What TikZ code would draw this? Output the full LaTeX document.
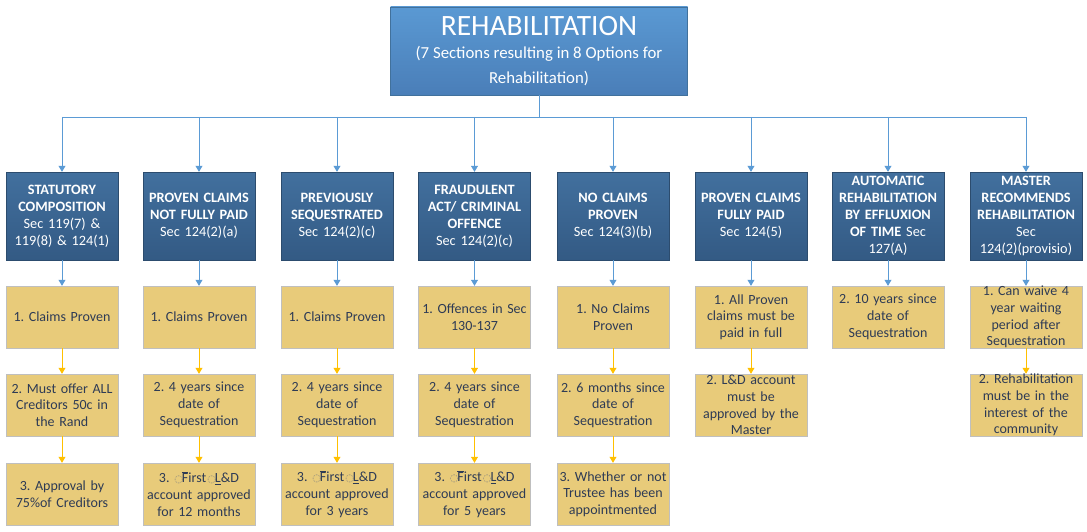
\documentclass[tikz,border=0pt]{standalone}
\usepackage{fontspec}
\setmainfont{Carlito}
\newfontfamily\dejavu{DejaVu Sans}
\usetikzlibrary{arrows.meta}
\definecolor{ttop}{HTML}{5A99D3}
\definecolor{tbot}{HTML}{4A7EB8}
\definecolor{tdraw}{HTML}{41719C}
\definecolor{btop}{HTML}{42709E}
\definecolor{bbot}{HTML}{335A84}
\definecolor{bdraw}{HTML}{2C4C6E}
\definecolor{yfill}{HTML}{E8CB7A}
\definecolor{ydraw}{HTML}{BFBFBF}
\definecolor{ytext}{HTML}{2E3B55}
\definecolor{bline}{HTML}{5B9BD5}
\definecolor{yline}{HTML}{FFC000}
\newcommand\hd[1]{\textbf{#1}}
\newcommand\dcir{{\color{gray}\dejavu\fontsize{10}{10}\selectfont ◌}}
\newcommand\fstld{\dcir\kern-1pt$\overline{\mbox{F}}$irst\kern1pt\dcir\kern-1pt\underline{L}\&D}
\frenchspacing
\begin{document}
\frenchspacing
\begin{tikzpicture}[x=1pt,y=-1pt,
  topbox/.style={draw=tdraw, top color=ttop, bottom color=tbot, minimum width=297pt, minimum height=88pt, inner sep=0pt, align=center, text=white, font=\fontsize{16.8}{25}\selectfont},
  bluebox/.style={draw=bdraw, top color=btop, bottom color=bbot, minimum width=112pt, minimum height=88pt, text width=110pt, align=center, inner sep=0pt, text=white, font=\fontsize{14.3}{17}\selectfont},
  yelbox/.style={draw=ydraw, fill=yfill, minimum width=112pt, minimum height=62pt, text width=110pt, align=center, inner sep=0pt, text=ytext, font=\fontsize{14}{16.7}\selectfont},
  bconn/.style={draw=bline, line width=0.8pt},
  barrow/.style={bconn, -{Triangle[width=7pt,length=6pt]}},
  yarrow/.style={draw=yline, line width=0.8pt, -{Triangle[width=7pt,length=6pt]}}
]
\useasboundingbox (0,0) rectangle (1087,532);
\fill[white] (0,0) rectangle (1087,532);

\node[topbox] (top) at (539,51) {{\fontsize{29.5}{30}\selectfont REHABILITATION}\\[-2pt]
  (7 Sections resulting in 8 Options for\\
  Rehabilitation)};

\coordinate (busy) at (0,117);

% blue boxes
\node[bluebox] (b1) at (62,216) {\hd{STATUTORY}\\\hd{COMPOSITION}\\Sec 119(7) \&\\119(8) \& 124(1)};
\node[bluebox] (b2) at (199,216) {\hd{PROVEN CLAIMS}\\\hd{NOT FULLY PAID}\\Sec 124(2)(a)};
\node[bluebox] (b3) at (337,216) {\hd{PREVIOUSLY}\\\hd{SEQUESTRATED}\\Sec 124(2)(c)};
\node[bluebox] (b4) at (474.5,216) {\hd{FRAUDULENT}\\\hd{ACT/ CRIMINAL}\\\hd{OFFENCE}\\Sec 124(2)(c)};
\node[bluebox] (b5) at (613,216) {\hd{NO CLAIMS}\\\hd{PROVEN}\\Sec 124(3)(b)};
\node[bluebox] (b6) at (751,216) {\hd{PROVEN CLAIMS}\\\hd{FULLY PAID}\\Sec 124(5)};
\node[bluebox] (b7) at (888,216) {\hd{AUTOMATIC}\\\hd{REHABILITATION}\\\hd{BY EFFLUXION}\\\hd{OF TIME} Sec\\127(A)};
\node[bluebox] (b8) at (1026,216) {\hd{MASTER}\\\hd{RECOMMENDS}\\\hd{REHABILITATION}\\Sec\\124(2)(provisio)};

% yellow boxes
\node[yelbox] (y11) at (62,317) {1. Claims Proven};
\node[yelbox] (y12) at (62,405) {2. Must offer ALL\\Creditors 50c in\\the Rand};
\node[yelbox] (y13) at (62,494) {3. Approval by\\75\%of Creditors};

\node[yelbox] (y21) at (199,317) {1. Claims Proven};
\node[yelbox] (y22) at (199,405) {2. 4 years since\\date of\\Sequestration};
\node[yelbox] (y23) at (199,494) {3. \fstld\\account approved\\for 12 months};

\node[yelbox] (y31) at (337,317) {1. Claims Proven};
\node[yelbox] (y32) at (337,405) {2. 4 years since\\date of\\Sequestration};
\node[yelbox] (y33) at (337,494) {3. \fstld\\account approved\\for 3 years};

\node[yelbox] (y41) at (474.5,317) {1. Offences in Sec\\130-137};
\node[yelbox] (y42) at (474.5,405) {2. 4 years since\\date of\\Sequestration};
\node[yelbox] (y43) at (474.5,494) {3. \fstld\\account approved\\for 5 years};

\node[yelbox] (y51) at (613,317) {1. No Claims\\Proven};
\node[yelbox] (y52) at (613,405) {2. 6 months since\\date of\\Sequestration};
\node[yelbox] (y53) at (613,494) {3. Whether or not\\Trustee has been\\appointmented};

\node[yelbox] (y61) at (751,317) {1. All Proven\\claims must be\\paid in full};
\node[yelbox] (y62) at (751,405) {2. L\&D account\\must be\\approved by the\\Master};

\node[yelbox] (y71) at (888,317) {2. 10 years since\\date of\\Sequestration};

\node[yelbox] (y81) at (1026,317) {1. Can waive 4\\year waiting\\period after\\Sequestration};
\node[yelbox] (y82) at (1026,405) {2. Rehabilitation\\must be in the\\interest of the\\community};

% connectors
\draw[bconn] (top.south) -- (top.south |- busy);
\draw[bconn] (b1.north |- busy) -- (b8.north |- busy);
\foreach \b in {b1,b2,b3,b4,b5,b6,b7,b8}
  \draw[barrow] (\b.north |- busy) -- (\b.north);
\foreach \i in {1,...,8}
  \draw[barrow] (b\i.south) -- (y\i1.north);
\foreach \i in {1,...,5}{
  \draw[yarrow] (y\i1.south) -- (y\i2.north);
  \draw[yarrow] (y\i2.south) -- (y\i3.north);
}
\draw[yarrow] (y61.south) -- (y62.north);
\draw[yarrow] (y81.south) -- (y82.north);
\end{tikzpicture}
\end{document}
